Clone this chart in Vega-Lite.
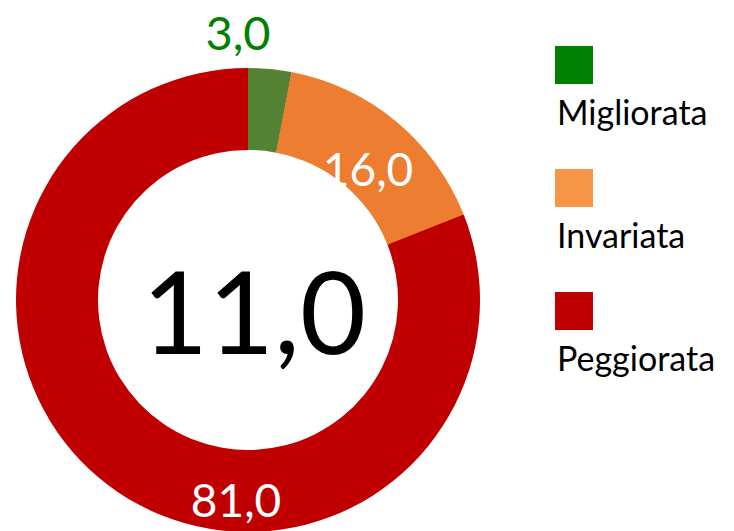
{
  "$schema": "https://vega.github.io/schema/vega-lite/v6.json",
  "width": 496,
  "height": 462,
  "autosize": "none",
  "padding": {"left": 0, "top": 69, "right": 238, "bottom": 0},
  "background": "white",
  "view": {"stroke": null},
  "config": {"font": "Lato"},
  "data": {
    "values": [
      {"esito": "Migliorata", "quota": 3, "etichetta": "3,0", "ordine": 1},
      {"esito": "Invariata", "quota": 16, "etichetta": "16,0", "ordine": 2},
      {"esito": "Peggiorata", "quota": 81, "etichetta": "81,0", "ordine": 3}
    ]
  },
  "layer": [
    {
      "mark": {"type": "arc", "outerRadius": 230, "innerRadius": 152},
      "encoding": {
        "theta": {"field": "quota", "type": "quantitative", "stack": true},
        "order": {"field": "ordine", "type": "quantitative"},
        "color": {
          "field": "esito",
          "type": "nominal",
          "sort": ["Migliorata", "Invariata", "Peggiorata"],
          "scale": {
            "domain": ["Migliorata", "Invariata", "Peggiorata"],
            "range": ["#008000", "#F79646", "#C00000"]
          },
          "legend": {
            "title": null,
            "orient": "none",
            "legendX": 555,
            "legendY": -23,
            "padding": 0,
            "symbolType": "square",
            "symbolSize": 1444,
            "symbolStrokeWidth": 0,
            "symbolOpacity": 1,
            "labelFont": "Lato",
            "labelFontSize": 34,
            "labelColor": "#000000",
            "labelOffset": -36,
            "labelBaseline": "alphabetic",
            "rowPadding": 37,
            "encode": {
              "labels": {
                "update": {
                  "dy": {"value": 60}
                }
              }
            }
          }
        }
      }
    },
    {
      "mark": {"type": "arc", "outerRadius": 232, "innerRadius": 150},
      "encoding": {
        "theta": {"field": "quota", "type": "quantitative", "stack": true},
        "order": {"field": "ordine", "type": "quantitative"},
        "fill": {
          "field": "esito",
          "type": "nominal",
          "sort": ["Migliorata", "Invariata", "Peggiorata"],
          "scale": {
            "domain": ["Migliorata", "Invariata", "Peggiorata"],
            "range": ["#548235", "#ED7D31", "#C00000"]
          },
          "legend": null
        }
      }
    },
    {
      "transform": [{"filter": "datum.esito === 'Migliorata'"}],
      "mark": {"type": "text", "fontSize": 47, "color": "#008000", "align": "center", "baseline": "alphabetic", "dx": -10, "dy": -250},
      "encoding": {"text": {"field": "etichetta"}}
    },
    {
      "transform": [{"filter": "datum.esito === 'Invariata'"}],
      "mark": {"type": "text", "fontSize": 46, "color": "#FFFFFF", "align": "center", "baseline": "alphabetic", "dx": 120, "dy": -114},
      "encoding": {"text": {"field": "etichetta"}}
    },
    {
      "transform": [{"filter": "datum.esito === 'Peggiorata'"}],
      "mark": {"type": "text", "fontSize": 46, "color": "#FFFFFF", "align": "center", "baseline": "alphabetic", "dx": -12, "dy": 217},
      "encoding": {"text": {"field": "etichetta"}}
    },
    {
      "data": {"values": [{"indice": "11,0"}]},
      "mark": {"type": "text", "fontSize": 114, "color": "#000000", "align": "center", "baseline": "alphabetic", "dx": 6, "dy": 54},
      "encoding": {"text": {"field": "indice"}}
    }
  ]
}
